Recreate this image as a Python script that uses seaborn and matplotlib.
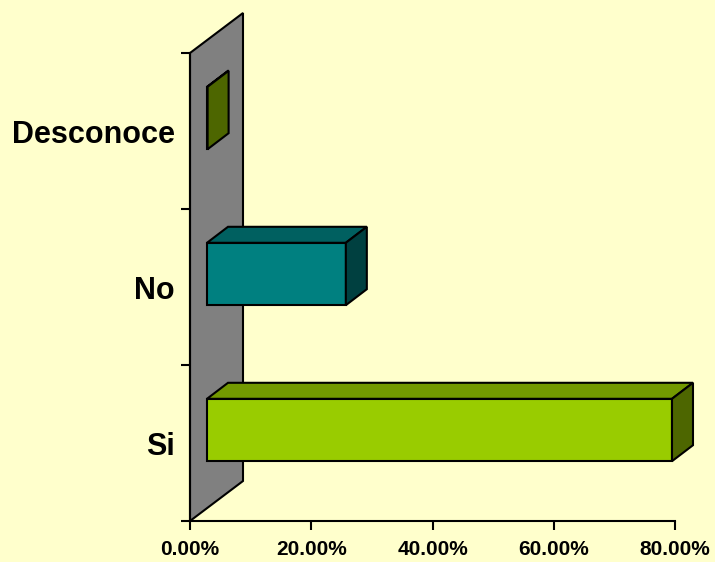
import pandas as pd
import seaborn as sns
import matplotlib.pyplot as plt
from matplotlib.patches import Polygon
from matplotlib.transforms import IdentityTransform, ScaledTranslation
from matplotlib.colors import to_rgb

# data
categories = ["Desconoce", "No", "Si"]
values = [0.1, 22.9, 76.7]
bar_colors = ["#99CC00", "#008080", "#99CC00"]

tick_values = [0, 20, 40, 60, 80]
tick_labels = ["0.00%", "20.00%", "40.00%", "60.00%", "80.00%"]

bg = "#FFFFCC"

sns.set_theme(style="white")
plt.rcParams["font.family"] = ["Liberation Sans", "DejaVu Sans"]
plt.rcParams["text.color"] = "black"
plt.rcParams["xtick.color"] = "black"
plt.rcParams["ytick.color"] = "black"

fig = plt.figure(figsize=(7.15, 5.62), dpi=100, facecolor=bg)
ax = fig.add_axes([190 / 715, 41 / 562, 485 / 715, 468 / 562])
ax.set_facecolor("none")

df = pd.DataFrame({"cat": categories, "val": values})
sns.barplot(data=df, x="val", y="cat", hue="cat", order=categories,
            palette=dict(zip(categories, bar_colors)), saturation=1,
            width=0.4, legend=False, edgecolor="black", linewidth=1.5, ax=ax)
bars = list(ax.patches)

ax.set_xlim(0, 80)
ax.set_ylim(2.5, -0.5)
ax.set_xlabel("")
ax.set_ylabel("")

# pseudo 3d: depth offsets in pixels
front_dx, front_dy = 17, 13
depth_dx, depth_dy = 21, 16
wall_dx, wall_dy = 53, 40

# back wall
(wx, wb), (_, wt) = ax.transData.transform([(0, 2.5), (0, -0.5)])
wall = Polygon([(wx, wb), (wx, wt), (wx + wall_dx, wt + wall_dy), (wx + wall_dx, wb + wall_dy)],
               closed=True, facecolor="#808080", edgecolor="black", linewidth=1.5,
               transform=IdentityTransform(), clip_on=False, zorder=0.5)
ax.add_artist(wall)


def shade(c, f):
    r, g, b = to_rgb(c)
    return (r * f, g * f, b * f)


shift = ScaledTranslation(front_dx / 100, front_dy / 100, fig.dpi_scale_trans)
for p in bars:
    x0, y0, w, h = p.get_x(), p.get_y(), p.get_width(), p.get_height()
    pts = ax.transData.transform([(x0, y0), (x0 + w, y0 + h)])
    left, right = pts[:, 0].min() + front_dx, pts[:, 0].max() + front_dx
    bot, top = pts[:, 1].min() + front_dy, pts[:, 1].max() + front_dy
    col = p.get_facecolor()
    p.set_transform(ax.transData + shift)
    p.set_clip_on(False)
    p.set_zorder(2)
    top_face = Polygon([(left, top), (right, top), (right + depth_dx, top + depth_dy),
                        (left + depth_dx, top + depth_dy)],
                       closed=True, facecolor=shade(col, 0.75), edgecolor="black",
                       linewidth=1.5, transform=IdentityTransform(), clip_on=False, zorder=2)
    side_face = Polygon([(right, bot), (right, top), (right + depth_dx, top + depth_dy),
                         (right + depth_dx, bot + depth_dy)],
                        closed=True, facecolor=shade(col, 0.5), edgecolor="black",
                        linewidth=1.5, transform=IdentityTransform(), clip_on=False, zorder=2)
    ax.add_artist(top_face)
    ax.add_artist(side_face)

# axes styling
for s in ["top", "right"]:
    ax.spines[s].set_visible(False)
for s in ["left", "bottom"]:
    ax.spines[s].set_color("black")
    ax.spines[s].set_linewidth(1.5)

ax.set_xticks(tick_values)
ax.set_xticklabels(tick_labels, fontsize=15, fontweight="bold")
ax.tick_params(axis="x", direction="out", length=6.5, width=1.5, color="black", pad=7,
               bottom=True, labelcolor="black")

ax.set_yticks([-0.5, 0.5, 1.5, 2.5])
ax.set_yticklabels([])
ax.set_yticks([0, 1, 2], minor=True)
ax.set_yticklabels(categories, minor=True, fontsize=22, fontweight="bold")
ax.tick_params(axis="y", which="major", direction="out", length=6.5, width=1.5,
               color="black", left=True)
ax.tick_params(axis="y", which="minor", length=0, pad=10.8, left=True, labelcolor="black")

fig.savefig("out.png", dpi=100, facecolor=bg)
